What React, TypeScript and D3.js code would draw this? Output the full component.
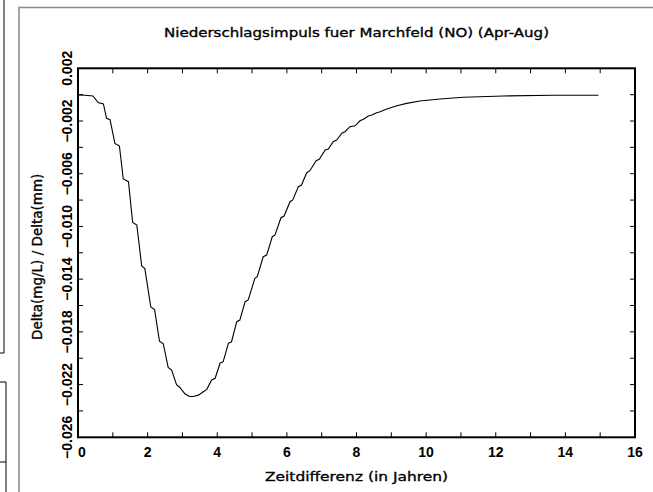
import React from "react";
import * as d3 from "d3";

const TITLE = "Niederschlagsimpuls fuer Marchfeld (NO) (Apr-Aug)";
const X_LABEL = "Zeitdifferenz (in Jahren)";
const Y_LABEL = "Delta(mg/L) / Delta(mm)";

const xTickValues = [0, 2, 4, 6, 8, 10, 12, 14, 16];
const xTickLabels = ["0", "2", "4", "6", "8", "10", "12", "14", "16"];
const xMinorTicks = [1, 3, 5, 7, 9, 11, 13, 15];
const yTickValues = [0.002, -0.002, -0.006, -0.01, -0.014, -0.018, -0.022, -0.026];
const yTickLabels = ["0.002", "\u22120.002", "\u22120.006", "\u22120.010", "\u22120.014", "\u22120.018", "\u22120.022", "\u22120.026"];
const yMinorTicks = [0, -0.004, -0.008, -0.012, -0.016, -0.02, -0.024];

// Zeitdifferenz (years)
const years = [
  0.0, 0.2, 0.43, 0.58, 0.73, 0.82, 0.92, 1.06, 1.19, 1.3, 1.45, 1.57, 1.69, 1.83, 1.92,
  2.09, 2.2, 2.34, 2.45, 2.59, 2.69, 2.83, 2.92, 3.07, 3.2, 3.31, 3.46, 3.6, 3.7,
  3.84, 3.94, 4.08, 4.17, 4.32, 4.41, 4.56, 4.65, 4.8, 4.89, 5.08, 5.15, 5.32, 5.42,
  5.58, 5.66, 5.83, 5.92, 6.09, 6.17, 6.33, 6.42, 6.57, 6.66, 6.84, 6.93, 7.1, 7.19,
  7.33, 7.43, 7.58, 7.67, 7.81, 7.96, 8.1, 8.2, 8.34, 8.44, 8.58, 8.68, 8.87, 8.96,
  9.16, 9.44, 9.82, 10.4, 11.07, 12.22, 13.65, 14.95,
];
// Delta(mg/L) / Delta(mm)
const impulse = [
  -0.00003, -0.00005, -0.0001, -0.0006, -0.0007, -0.0018, -0.0019, -0.0037, -0.0039, -0.0064, -0.0066, -0.0097, -0.0099, -0.013, -0.0132,
  -0.0161, -0.0163, -0.0187, -0.0189, -0.0207, -0.0209, -0.022, -0.0222, -0.0227, -0.0229, -0.0229, -0.0228, -0.02254, -0.02236,
  -0.02165, -0.02152, -0.02038, -0.02026, -0.01887, -0.01875, -0.01723, -0.0171, -0.01571, -0.01558, -0.01393, -0.01381, -0.0123, -0.01217,
  -0.01078, -0.01065, -0.00934, -0.00921, -0.00812, -0.00799, -0.00698, -0.00686, -0.00592, -0.00577, -0.00501, -0.0049, -0.0042, -0.00412,
  -0.00357, -0.00344, -0.00293, -0.00281, -0.00243, -0.00236, -0.00198, -0.00187, -0.00162, -0.00154, -0.00137, -0.00129, -0.00109, -0.00101,
  -0.00084, -0.00066, -0.00048, -0.00033, -0.0002, -0.0001, -0.00005, -0.00004,
];

const W = 653;
const H = 492;
const L = 78;
const R = 635;
const T = 68.3;
const B = 437.3;
const TEXT_FONT = "'DejaVu Sans', sans-serif";
const TICK_FONT = "'Liberation Sans', Arial, sans-serif";

export default function App() {
  const x = d3.scaleLinear().domain([0, 16]).range([L, R]);
  const y = d3.scaleLinear().domain([-0.026, 0.002]).range([B, T]);
  const pts = years.map((t, i) => [t, impulse[i]] as [number, number]);
  const line = d3
    .line<[number, number]>()
    .x((d) => x(d[0]))
    .y((d) => y(d[1]))
    .curve(d3.curveLinear);
  const tk = 5;
  const allX = [...xTickValues, ...xMinorTicks].filter((v) => v > 0 && v < 16);
  const allY = [...yTickValues, ...yMinorTicks].filter((v) => v > -0.026 && v < 0.002);

  return (
    <svg
      width={W}
      height={H}
      style={{ position: "absolute", left: 0, top: 0, background: "#fff" }}
    >
      <rect x={0} y={0} width={W} height={H} fill="#fff" />
      {/* window decorations */}
      <path d="M4,0 V353 H0" fill="none" stroke="#000" strokeWidth={1} />
      <path d="M0,382 H6 V492 M0,462 H6" fill="none" stroke="#000" strokeWidth={1} />
      <path d="M19,492 V7.5 H653" fill="none" stroke="#888" strokeWidth={1.5} />

      {/* title */}
      <text
        x={(L + R) / 2}
        y={37}
        textAnchor="middle"
        fontFamily={TEXT_FONT}
        fontSize={13}
        textLength={385}
        lengthAdjust="spacingAndGlyphs"
        fill="#000"
        stroke="#000"
        strokeWidth={0.35}
      >
        {TITLE}
      </text>

      {/* ticks */}
      {allX.map((v) => (
        <g key={"xt" + v}>
          <line x1={x(v)} x2={x(v)} y1={B} y2={B - tk} stroke="#000" strokeWidth={1} />
          <line x1={x(v)} x2={x(v)} y1={T} y2={T + tk} stroke="#000" strokeWidth={1} />
        </g>
      ))}
      {allY.map((v) => (
        <g key={"yt" + v}>
          <line x1={L} x2={L + tk} y1={y(v)} y2={y(v)} stroke="#000" strokeWidth={1} />
          <line x1={R} x2={R - tk} y1={y(v)} y2={y(v)} stroke="#000" strokeWidth={1} />
        </g>
      ))}

      {/* curve */}
      <path d={line(pts) || ""} fill="none" stroke="#000" strokeWidth={1.1} />

      {/* frame */}
      <rect x={L} y={T} width={R - L} height={B - T} fill="none" stroke="#000" strokeWidth={2} />

      {/* x tick labels */}
      {xTickValues.map((v, i) => (
        <text
          key={"xl" + v}
          x={v === 0 ? x(v) + 4 : x(v)}
          y={456.5}
          textAnchor="middle"
          fontFamily={TICK_FONT}
          fontWeight="bold"
          fontSize={14}
          fill="#000"
        >
          {xTickLabels[i]}
        </text>
      ))}

      {/* y tick labels */}
      {yTickValues.map((v, i) => (
        <text
          key={"yl" + v}
          transform={`translate(72,${y(v)}) rotate(-90)`}
          textAnchor="middle"
          fontFamily={TICK_FONT}
          fontWeight="bold"
          fontSize={14}
          fill="#000"
        >
          {yTickLabels[i]}
        </text>
      ))}

      {/* axis titles */}
      <text
        x={(L + R) / 2}
        y={481}
        textAnchor="middle"
        fontFamily={TEXT_FONT}
        fontSize={13}
        textLength={183}
        lengthAdjust="spacingAndGlyphs"
        fill="#000"
        stroke="#000"
        strokeWidth={0.35}
      >
        {X_LABEL}
      </text>
      <text
        transform={`translate(42,${(T + B) / 2 + 4}) rotate(-90)`}
        textAnchor="middle"
        fontFamily={TEXT_FONT}
        fontSize={13.5}
        fill="#000"
        stroke="#000"
        strokeWidth={0.35}
      >
        {Y_LABEL}
      </text>
    </svg>
  );
}
